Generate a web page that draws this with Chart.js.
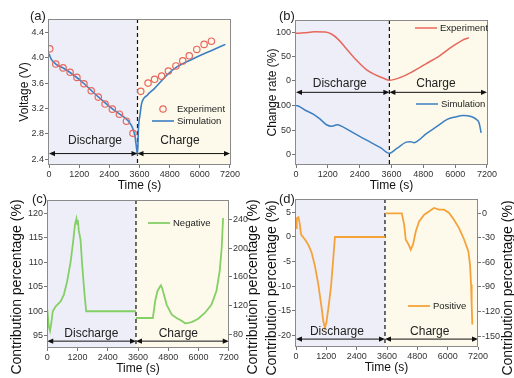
<!DOCTYPE html>
<html>
<head>
<meta charset="utf-8">
<script src="https://cdn.jsdelivr.net/npm/chart.js@4.4.1/dist/chart.umd.min.js"></script>
<style>
  html, body { margin: 0; padding: 0; background: #fff; }
  #wrap { position: relative; width: 514px; height: 378px; overflow: hidden;
          font-family: 'Liberation Sans', Arial, Helvetica, sans-serif; }
  #wrap canvas { position: absolute; left: 0; top: 0; }
  .tag { position: absolute; font-size: 13px; line-height: 13px; color: #222; }
</style>
</head>
<body>
<div id="wrap">
  <canvas id="chartA" width="514" height="378"></canvas>
  <canvas id="chartB" width="514" height="378"></canvas>
  <canvas id="chartC" width="514" height="378"></canvas>
  <canvas id="chartD" width="514" height="378"></canvas>
  <div class="tag" style="left:30px;top:9px">(a)</div>
  <div class="tag" style="left:279px;top:9px">(b)</div>
  <div class="tag" style="left:32px;top:192px">(c)</div>
  <div class="tag" style="left:279px;top:192px">(d)</div>
</div>
<script>
// shared x axis / phases
const timeTicks = [0, 1200, 2400, 3600, 4800, 6000, 7200];
const switchTime = 3520;
const phaseNames = ['Discharge', 'Charge'];

// (a) voltage
const voltTicks = [2.4, 2.8, 3.2, 3.6, 4.0, 4.4];
const aExpTime = [30, 270, 560, 840, 1110, 1390, 1680, 1960, 2230, 2520, 2800, 3080, 3340,
                  3650, 3940, 4200, 4480, 4750, 5050, 5320, 5580, 5880, 6170, 6460];
const aExpVolt = [4.14, 3.90, 3.84, 3.77, 3.69, 3.59, 3.48, 3.38, 3.27, 3.19, 3.11, 3.00, 2.81,
                  3.47, 3.60, 3.66, 3.71, 3.79, 3.87, 3.95, 4.03, 4.13, 4.21, 4.26];
const aSimTime = [0, 100, 270, 600, 1000, 1400, 1800, 2200, 2600, 3000, 3200, 3330, 3420, 3475, 3520,
                  3560, 3620, 3680, 3910, 4180, 4700, 5100, 5500, 6030, 6560, 7020];
const aSimVolt = [4.06, 3.97, 3.90, 3.83, 3.72, 3.59, 3.44, 3.30, 3.17, 3.06, 2.98, 2.89, 2.76, 2.60, 2.47,
                  2.90, 3.10, 3.27, 3.41, 3.51, 3.73, 3.86, 3.94, 4.04, 4.13, 4.21];

// (b) change rate, experiment drawn above simulation on a shared axis
const rateTicks = [0, 50, 100];
const bExpOffset = 152;
const bExpTime = [0, 300, 700, 1100, 1350, 1600, 1900, 2250, 2650, 3000, 3300, 3520,
                  3900, 4400, 4900, 5400, 5900, 6250, 6520];
const bExpRate = [98, 99, 101, 100.5, 96, 85, 66, 44, 23, 12, 5, 1,
                  6, 19, 35, 51, 71, 83, 89];
const bSimTime = [0, 150, 350, 650, 900, 1150, 1350, 1550, 1750, 2200, 2700, 3200, 3520,
                  3800, 4150, 4300, 4450, 4600, 4900, 5300, 5700, 6000, 6300, 6600, 6800, 6900, 6980];
const bSimRate = [101, 98, 91, 83, 73, 61, 58, 61, 57, 43, 28, 13, 2,
                  12, 25, 26, 24, 28, 42, 57, 72, 77, 80, 78, 72, 65, 44];

// (c) negative electrode contribution
const cLeftTicks = [95, 100, 105, 110, 115, 120];
const cRightTicks = [80, 120, 160, 200, 240];
const cDisTime = [0, 60, 110, 160, 220, 335, 530, 660, 790, 930, 1030, 1100, 1130, 1160, 1190, 1215,
                  1250, 1320, 1385, 1480, 1545, 3520];
const cDisVal = [100.5, 96.9, 96.0, 97.6, 100, 101, 102, 103.4, 106.1, 110.2, 114.3, 117.7, 118.3, 118.9, 117.8, 118.6,
                 116.5, 114.6, 109.5, 103.4, 100, 100];
const cChgTime = [3520, 4190, 4280, 4370, 4450, 4510, 4560, 4610, 4740, 4940, 5130, 5330, 5470, 5600,
                  5730, 5990, 6250, 6510, 6710, 6840, 6920, 6975];
const cChgVal = [102.7, 102.7, 126, 140, 145, 148, 144, 137.5, 121, 107.3, 102.7, 99, 95.4, 96,
                 97, 101.7, 109.7, 121.2, 140, 167.7, 200, 241.8];

// (d) positive electrode contribution
const dLeftTicks = [-20, -15, -10, -5, 0, 5];
const dRightTicks = [-150, -120, -90, -60, -30, 0];
const dDisTime = [0, 30, 95, 145, 200, 355, 490, 620, 750, 885, 1015, 1080, 1145, 1200, 1280,
                  1380, 1475, 1540, 3520];
const dDisVal = [1.8, 3.8, 4.0, 2.8, 0.5, -0.5, -1.6, -3.2, -5.9, -9.7, -14.4, -17.1, -18.4, -17.4, -14.4,
                 -10.3, -4.3, 0, 0];
const dChgTime = [3520, 4185, 4280, 4340, 4450, 4540, 4630, 4740, 4870, 5070, 5270, 5460, 5660, 5860,
                  6055, 6250, 6450, 6650, 6820, 6885, 6925, 6950, 6975];
const dChgVal = [0, 0, -14, -32, -38, -44.5, -38, -22, -9.8, -1.7, 2.4, 6.5, 4.4, 4.4,
                 0.4, -7.8, -18, -32, -46.5, -63, -87, -112, -136];

const RED = '#e8675d', BLUE = '#3d7fc1', GREEN = '#84cf66', ORANGE = '#f5a23a';
const FONT = "'Liberation Sans', Arial, Helvetica, sans-serif";

Chart.defaults.font.family = FONT;
Chart.defaults.color = '#333';
Chart.defaults.animation = false;
Chart.defaults.events = [];
Chart.defaults.plugins.legend.display = false;
Chart.defaults.plugins.tooltip.enabled = false;

const pts = (xs, ys, dy = 0) => xs.map((x, i) => ({ x: x, y: ys[i] + dy }));

function timeAxis(min, max) {
    return {
        type: 'linear', position: 'bottom', min: min, max: max,
        afterBuildTicks: s => { s.ticks = timeTicks.map(v => ({ value: v })); },
        afterFit: s => { s.height = 28; },
        grid: { drawOnChartArea: false, tickLength: 3, color: '#777' },
        border: { display: false },
        ticks: { font: { size: 9 }, color: '#333', padding: 1, maxRotation: 0, autoSkip: false,
                 callback: v => String(v) },
        title: { display: true, text: 'Time (s)', font: { size: 12 }, color: '#111', padding: 0 }
    };
}

function valueAxis(o) {
    return {
        type: 'linear', position: o.position || 'left', min: o.min, max: o.max,
        afterBuildTicks: s => { s.ticks = o.ticks.map(v => ({ value: v })); },
        afterFit: s => { s.width = o.width; },
        grid: { drawOnChartArea: false, tickLength: 3, color: '#777' },
        border: { display: false },
        ticks: { font: { size: 9 }, color: '#333', padding: 1, autoSkip: false, callback: o.format },
        title: o.title ? { display: true, text: o.title, font: { size: 12 }, color: '#111', padding: 0 }
                       : { display: false }
    };
}

function drawArrow(ctx, x1, x2, y) {
    const len = 6, half = 2.6;
    ctx.beginPath(); ctx.moveTo(x1 + 2, y); ctx.lineTo(x2 - 2, y); ctx.stroke();
    ctx.beginPath(); ctx.moveTo(x1, y); ctx.lineTo(x1 + len, y - half); ctx.lineTo(x1 + len, y + half); ctx.closePath(); ctx.fill();
    ctx.beginPath(); ctx.moveTo(x2, y); ctx.lineTo(x2 - len, y - half); ctx.lineTo(x2 - len, y + half); ctx.closePath(); ctx.fill();
}

// phase shading, divider, arrows, phase names, frame, in-plot legend, extra axis titles
const decor = {
    id: 'decor',
    beforeDatasetsDraw(chart, args, o) {
        const { ctx, chartArea: a } = chart;
        const sx = chart.scales.x.getPixelForValue(switchTime);
        ctx.save();
        ctx.fillStyle = '#eeeef8';
        ctx.fillRect(a.left, a.top, sx - a.left, a.bottom - a.top);
        ctx.fillStyle = '#fdfaeb';
        ctx.fillRect(sx, a.top, a.right - sx, a.bottom - a.top);
        ctx.strokeStyle = '#111'; ctx.lineWidth = 1.2; ctx.setLineDash([4, 3]);
        ctx.beginPath(); ctx.moveTo(sx, a.top); ctx.lineTo(sx, a.bottom); ctx.stroke();
        ctx.restore();
    },
    afterDraw(chart, args, o) {
        const { ctx, chartArea: a } = chart;
        const x = chart.scales.x, y = chart.scales.y;
        const sx = x.getPixelForValue(switchTime);
        ctx.save();
        // double arrows for each phase
        ctx.strokeStyle = '#111'; ctx.fillStyle = '#111'; ctx.lineWidth = 1;
        const ay = y.getPixelForValue(o.arrowLevel);
        drawArrow(ctx, x.getPixelForValue(timeTicks[0]), sx, ay);
        drawArrow(ctx, sx, x.getPixelForValue(timeTicks[timeTicks.length - 1]), ay);
        // phase names
        ctx.font = '12px ' + FONT; ctx.textAlign = 'center'; ctx.textBaseline = 'middle'; ctx.fillStyle = '#222';
        phaseNames.forEach((name, i) => {
            ctx.fillText(name, x.getPixelForValue(o.labelAt[i]), y.getPixelForValue(o.labelLevel));
        });
        // frame
        ctx.strokeStyle = '#8a8a8a'; ctx.lineWidth = 1;
        ctx.strokeRect(a.left + 0.5, a.top + 0.5, a.right - a.left - 1, a.bottom - a.top - 1);
        // legend entries
        ctx.font = '9.5px ' + FONT; ctx.textAlign = 'left';
        (o.legend || []).forEach(it => {
            const ds = chart.data.datasets[it.ds];
            ctx.strokeStyle = ds.borderColor;
            if (ds.showLine === false) {
                ctx.lineWidth = 1.2;
                ctx.beginPath(); ctx.arc(it.x, it.y, 3.2, 0, Math.PI * 2); ctx.stroke();
            } else {
                ctx.lineWidth = ds.borderWidth;
                ctx.beginPath(); ctx.moveTo(it.x - 11, it.y); ctx.lineTo(it.x + 11, it.y); ctx.stroke();
            }
            ctx.fillStyle = '#222';
            ctx.fillText(ds.label, it.x + 14, it.y);
        });
        // vertical titles read bottom-to-top
        ctx.font = '14px ' + FONT; ctx.textAlign = 'center'; ctx.fillStyle = '#111';
        (o.sideTitles || []).forEach(t => {
            ctx.save();
            ctx.translate(t.x, t.y); ctx.rotate(-Math.PI / 2);
            ctx.fillText(t.text, 0, 0);
            ctx.restore();
        });
        ctx.restore();
    }
};

const lineStyle = (color, width) => ({
    showLine: true, borderColor: color, backgroundColor: color, borderWidth: width,
    pointRadius: 0, fill: false
});

// (a)
new Chart(document.getElementById('chartA'), {
    type: 'scatter',
    data: {
        datasets: [
            { label: 'Experiment', data: pts(aExpTime, aExpVolt), showLine: false,
              borderColor: RED, backgroundColor: 'rgba(0,0,0,0)', pointRadius: 3.2, pointBorderWidth: 1.2 },
            Object.assign({ label: 'Simulation', data: pts(aSimTime, aSimVolt),
                            cubicInterpolationMode: 'monotone' }, lineStyle(BLUE, 1.6))
        ]
    },
    options: {
        responsive: false,
        layout: { padding: { left: 17, top: 19, right: 283, bottom: 185 } },
        scales: {
            x: timeAxis(-40, 7240),
            y: valueAxis({ min: 2.31, max: 4.61, ticks: voltTicks, width: 31, title: 'Voltage (V)',
                           format: v => v.toFixed(1) })
        },
        plugins: {
            decor: { arrowLevel: 2.49, labelAt: [1830, 5210], labelLevel: 2.69,
                     legend: [{ ds: 0, x: 163, y: 109 }, { ds: 1, x: 163, y: 121 }] }
        }
    },
    plugins: [decor]
});

// (b)
new Chart(document.getElementById('chartB'), {
    type: 'scatter',
    data: {
        datasets: [
            Object.assign({ label: 'Experiment', data: pts(bExpTime, bExpRate, bExpOffset),
                            cubicInterpolationMode: 'monotone' }, lineStyle(RED, 1.5)),
            Object.assign({ label: 'Simulation', data: pts(bSimTime, bSimRate),
                            cubicInterpolationMode: 'monotone' }, lineStyle(BLUE, 1.5))
        ]
    },
    options: {
        responsive: false,
        layout: { padding: { left: 265, top: 20, right: 26, bottom: 185 } },
        scales: {
            x: timeAxis(-38, 7238),
            y: valueAxis({ min: -22.2, max: 277.5, width: 30, title: 'Change rate (%)',
                           ticks: rateTicks.concat(rateTicks.map(v => v + bExpOffset)),
                           format: v => String(v >= bExpOffset ? v - bExpOffset : v) })
        },
        plugins: {
            decor: { arrowLevel: 128, labelAt: [1650, 5274], labelLevel: 145,
                     legend: [{ ds: 0, x: 426, y: 28 }, { ds: 1, x: 427, y: 104 }] }
        }
    },
    plugins: [decor]
});

// (c)
new Chart(document.getElementById('chartC'), {
    type: 'scatter',
    data: {
        datasets: [
            Object.assign({ label: 'Negative', data: pts(cDisTime, cDisVal), yAxisID: 'y' }, lineStyle(GREEN, 1.8)),
            Object.assign({ label: 'Negative', data: pts(cChgTime, cChgVal), yAxisID: 'y2' }, lineStyle(GREEN, 1.8))
        ]
    },
    options: {
        responsive: false,
        layout: { padding: { left: 9, top: 200, right: 255, bottom: 2 } },
        scales: {
            x: timeAxis(-10, 7210),
            y: valueAxis({ min: 92.5, max: 122.7, ticks: cLeftTicks, width: 38, format: v => String(v) }),
            y2: valueAxis({ position: 'right', min: 61, max: 266.8, ticks: cRightTicks, width: 30,
                            format: v => String(v) })
        },
        plugins: {
            decor: { arrowLevel: 93.9, labelAt: [1750, 5200], labelLevel: 95.5,
                     legend: [{ ds: 1, x: 159, y: 223 }],
                     sideTitles: [{ text: 'Contribution percentage (%)', x: 17.5, y: 287 },
                                  { text: 'Contribution percentage (%)', x: 253, y: 287 }] }
        }
    },
    plugins: [decor]
});

// (d)
new Chart(document.getElementById('chartD'), {
    type: 'scatter',
    data: {
        datasets: [
            Object.assign({ label: 'Positive', data: pts(dDisTime, dDisVal), yAxisID: 'y' }, lineStyle(ORANGE, 1.8)),
            Object.assign({ label: 'Positive', data: pts(dChgTime, dChgVal), yAxisID: 'y2' }, lineStyle(ORANGE, 1.8))
        ]
    },
    options: {
        responsive: false,
        layout: { padding: { left: 264, top: 199, right: 6, bottom: 3 } },
        scales: {
            x: timeAxis(-40, 7200),
            y: valueAxis({ min: -22.3, max: 7.7, ticks: dLeftTicks, width: 31, format: v => String(v) }),
            y2: valueAxis({ position: 'right', min: -163.4, max: 17.5, ticks: dRightTicks, width: 30,
                            format: v => String(v) })
        },
        plugins: {
            decor: { arrowLevel: -20.7, labelAt: [1620, 5290], labelLevel: -19.2,
                     legend: [{ ds: 1, x: 419, y: 306 }],
                     sideTitles: [{ text: 'Contribution percentage (%)', x: 272.5, y: 288 },
                                  { text: 'Contribution percentage (%)', x: 508, y: 288 }] }
        }
    },
    plugins: [decor]
});
</script>
</body>
</html>
